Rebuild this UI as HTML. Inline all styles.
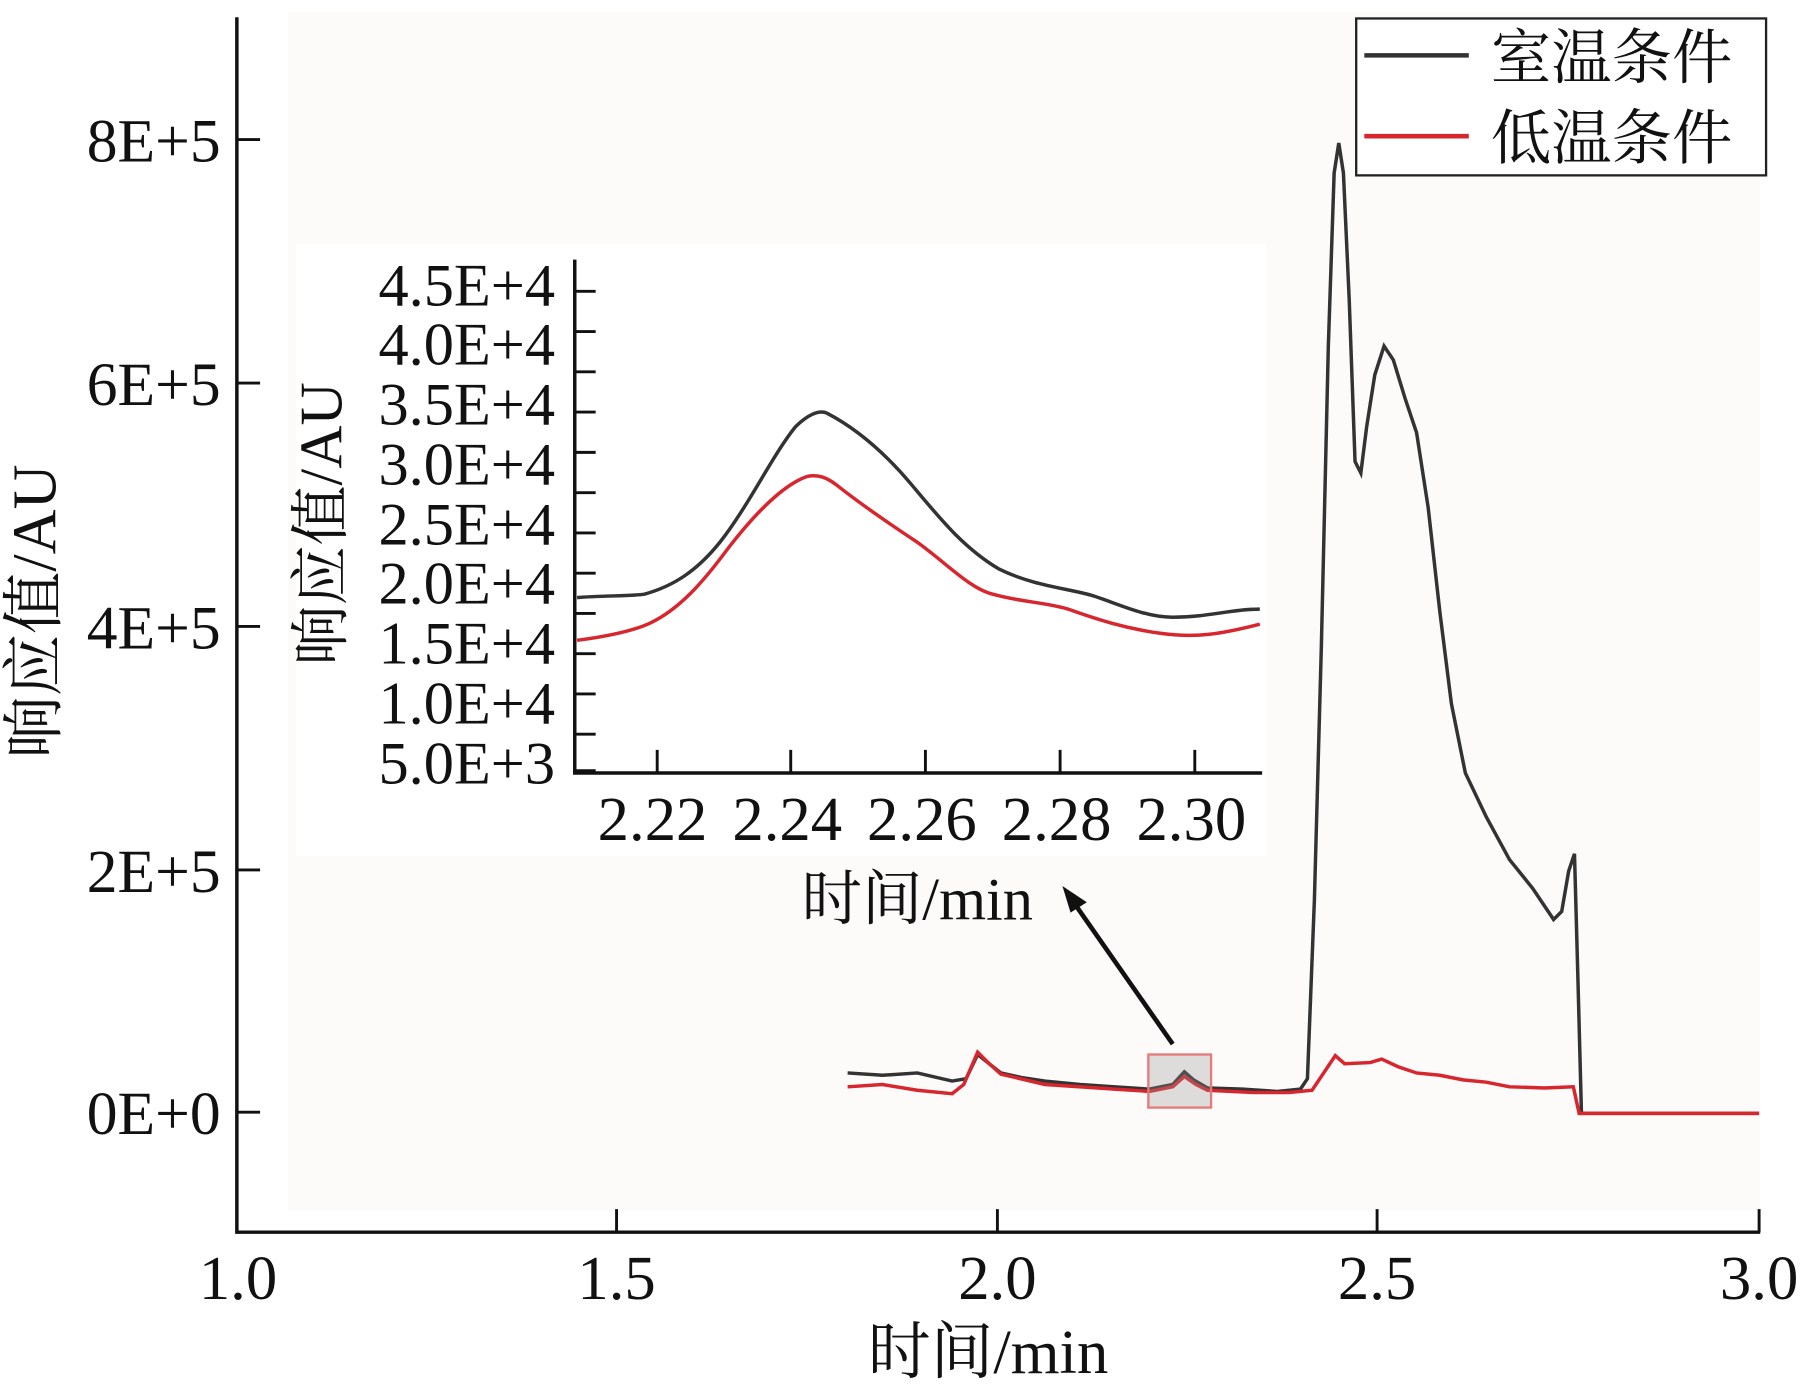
<!DOCTYPE html>
<html><head><meta charset="utf-8"><style>html,body{margin:0;padding:0;background:#fff}svg{display:block}</style></head>
<body>
<svg width="1816" height="1396" viewBox="0 0 1564 1210" preserveAspectRatio="none" xmlns="http://www.w3.org/2000/svg" font-family="'Liberation Serif','Noto Serif CJK SC',serif">
<rect x="0" y="0" width="1564" height="1210" fill="#fff"/>
<rect x="248" y="10" width="1268" height="1040" fill="#fcfbfa"/>
<rect x="255" y="212" width="835" height="530" fill="#fff"/>
<!-- main axes -->
<path d="M204 15 V1068 H1516" fill="none" stroke="#111" stroke-width="3"/>
<g stroke="#111" stroke-width="2.5">
<path d="M204 121h20M204 332h20M204 543h20M204 754h20M204 964h20"/>
<path d="M531 1068v-20M859 1068v-20M1186 1068v-20M1515 1068v-20"/>
</g>
<g font-size="53" fill="#111" text-anchor="end">
<text x="190" y="140">8E+5</text>
<text x="190" y="351">6E+5</text>
<text x="190" y="562">4E+5</text>
<text x="190" y="773">2E+5</text>
<text x="190" y="983">0E+0</text>
</g>
<g font-size="54" fill="#111" text-anchor="middle">
<text x="205" y="1126">1.0</text>
<text x="531" y="1126">1.5</text>
<text x="859" y="1126">2.0</text>
<text x="1186" y="1126">2.5</text>
<text x="1515" y="1126">3.0</text>
</g>
<text x="851" y="1190" font-size="54" text-anchor="middle" fill="#111">时间/min</text>
<text transform="translate(48,530) rotate(-90)" font-size="54" text-anchor="middle" fill="#111">响应值/AU</text>
<!-- legend -->
<rect x="1168" y="16" width="353" height="136" fill="#fff" stroke="#222" stroke-width="2"/>
<path d="M1175 48h90" stroke="#333" stroke-width="4"/>
<path d="M1175 118h90" stroke="#d8262e" stroke-width="4"/>
<text x="1284" y="68" font-size="52" fill="#111">室温条件</text>
<text x="1284" y="138" font-size="52" fill="#111">低温条件</text>
<!-- main series -->
<path d="M730 930 L760 932 L790 930 L820 937 L832 935 L842 914 L852 922 L862 930 L880 934 L900 937 L930 940 L960 942 L990 944 L1010 940 L1020 929 L1028 936 L1040 943 L1070 944 L1100 946 L1120 944 L1126 935 L1132 780 L1138 560 L1144 300 L1149 150 L1153 124 L1157 150 L1162 260 L1167 400 L1172 410 L1177 370 L1184 325 L1192 300 L1200 312 L1210 345 L1220 375 L1230 440 L1240 530 L1250 610 L1262 670 L1280 708 L1300 745 L1320 770 L1338 797 L1345 790 L1351 755 L1356 740 L1359 850 L1362 965 L1515 965" fill="none" stroke="#333" stroke-width="3"/>
<path d="M730 942 L760 940 L790 945 L820 948 L830 940 L842 912 L852 922 L862 931 L900 940 L960 944 L990 946 L1010 942 L1020 933 L1030 940 L1040 945 L1080 947 L1110 947 L1130 945 L1140 930 L1150 915 L1158 922 L1180 921 L1190 918 L1205 925 L1220 930 L1240 932 L1260 936 L1280 938 L1300 942 L1330 943 L1355 942 L1360 965 L1515 965" fill="none" stroke="#d8262e" stroke-width="3"/>
<!-- highlight box -->
<rect x="989" y="914" width="54" height="46" fill="rgba(150,150,150,0.3)" stroke="#e47a7a" stroke-width="2"/>
<!-- arrow -->
<path d="M1010 905 L926 784" stroke="#111" stroke-width="4"/>
<path d="M915 768 L936 782 L922 791 Z" fill="#111"/>
<!-- inset axes -->
<path d="M495 225 V670 H1087" fill="none" stroke="#111" stroke-width="3"/>
<g stroke="#111" stroke-width="2.5">
<path d="M495 252.5h18M495 287.4h18M495 322.3h18M495 357.2h18M495 392.1h18M495 427h18M495 461.9h18M495 496.8h18M495 531.7h18M495 566.6h18M495 601.5h18M495 636.4h18M495 668h18"/>
<path d="M566 670v-20M681 670v-20M797 670v-20M913 670v-20M1029 670v-20"/>
</g>
<g font-size="52" fill="#111" text-anchor="end">
<text x="478" y="265">4.5E+4</text>
<text x="478" y="316">4.0E+4</text>
<text x="478" y="368">3.5E+4</text>
<text x="478" y="420">3.0E+4</text>
<text x="478" y="472">2.5E+4</text>
<text x="478" y="523">2.0E+4</text>
<text x="478" y="575">1.5E+4</text>
<text x="478" y="627">1.0E+4</text>
<text x="478" y="679">5.0E+3</text>
</g>
<g font-size="54" fill="#111" text-anchor="middle">
<text x="562" y="728">2.22</text>
<text x="678" y="728">2.24</text>
<text x="794" y="728">2.26</text>
<text x="910" y="728">2.28</text>
<text x="1026" y="728">2.30</text>
</g>
<text x="790" y="797" font-size="52" text-anchor="middle" fill="#111">时间/min</text>
<text transform="translate(294,454) rotate(-90)" font-size="52" text-anchor="middle" fill="#111">响应值/AU</text>
<!-- inset series -->
<path d="M497 518 C520 516 540 517 555 515 C580 508 600 495 620 470 C645 438 665 395 685 370 C695 360 705 355 712 358 C735 370 760 390 785 420 C810 450 830 475 860 493 C890 508 920 510 940 516 C960 522 985 535 1010 535 C1040 535 1060 528 1085 528" fill="none" stroke="#333" stroke-width="3"/>
<path d="M497 555 C520 552 545 547 560 540 C585 528 605 505 625 478 C650 445 675 420 695 413 C705 411 712 414 720 420 C740 436 760 450 790 470 C815 488 835 510 855 515 C880 522 900 522 920 528 C945 537 970 545 1000 549 C1030 553 1050 550 1085 541" fill="none" stroke="#d8262e" stroke-width="3"/>
</svg>
</body></html>
